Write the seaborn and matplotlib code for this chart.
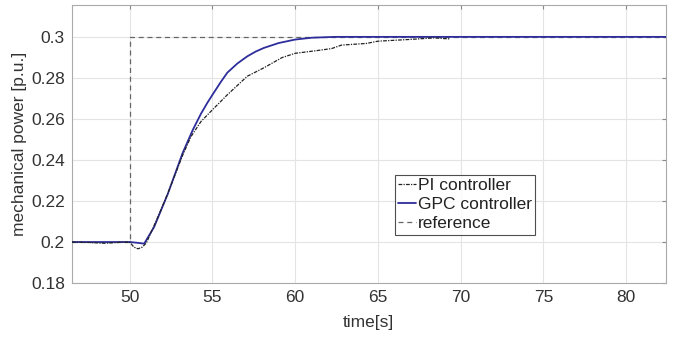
import numpy as np
import pandas as pd
import matplotlib
matplotlib.use("Agg")
import matplotlib.pyplot as plt
import seaborn as sns

# values
t_pi = [46.5, 47.5, 48.5, 49.5, 50.0, 50.25, 50.5, 50.75, 51.0, 51.7, 52.3, 53.2, 53.7,
        54.3, 55.0, 55.9, 57.1, 58.1, 59.2, 60.0, 61.2, 62.2, 62.8, 64.3, 65.0, 66.8,
        68.4, 69.35]
p_pi = [0.2, 0.1998, 0.1994, 0.1999, 0.2, 0.1975, 0.1967, 0.1975, 0.1995, 0.2122, 0.2237,
        0.2424, 0.2514, 0.2587, 0.2645, 0.2718, 0.2808, 0.2849, 0.2899, 0.292, 0.2932,
        0.2943, 0.2960, 0.2968, 0.2979, 0.2987, 0.2995, 0.2990]

t_gpc = [46.5, 50.0, 50.5, 50.87, 51.47, 52.3, 53.19, 53.8, 54.3, 54.7, 55.0, 55.5, 55.9,
         56.5, 57.1, 57.6, 58.1, 59.0, 60.0, 61.0, 62.4, 70.0, 82.5]
p_gpc = [0.2, 0.2, 0.1996, 0.1992, 0.2073, 0.2235, 0.2433, 0.2545, 0.2625, 0.2680, 0.2718,
         0.2780, 0.2826, 0.2870, 0.2905, 0.2928, 0.2946, 0.2970, 0.2987, 0.2996, 0.3,
         0.3, 0.3]

t_ref = [46.5, 50.0, 50.0, 82.5]
p_ref = [0.2, 0.2, 0.3, 0.3]

sns.set_style("whitegrid")
plt.rcParams['font.family'] = ['Liberation Sans', 'DejaVu Sans']

fig = plt.figure(figsize=(6.78, 3.39), dpi=100)
ax = fig.add_axes([0.106, 0.165, 0.876, 0.82])

df_ref = pd.DataFrame({"t": t_ref, "p": p_ref})
df_pi = pd.DataFrame({"t": t_pi, "p": p_pi})
df_gpc = pd.DataFrame({"t": t_gpc, "p": p_gpc})

sns.lineplot(data=df_gpc, x="t", y="p", ax=ax, color="#2d2d9c", lw=1.3,
             label="GPC controller", sort=False, estimator=None, zorder=3)
sns.lineplot(data=df_pi, x="t", y="p", ax=ax, color="#222222", lw=0.9,
             linestyle=(0, (3, 1, 1, 1)), label="PI controller", sort=False,
             estimator=None, zorder=4)
sns.lineplot(data=df_ref, x="t", y="p", ax=ax, color="#666666", lw=0.9,
             linestyle=(0, (4, 3)), label="reference", sort=False, estimator=None,
             zorder=2)

ax.set_xlim(46.5, 82.4)
ax.set_ylim(0.18, 0.3155)
ax.set_xticks([50, 55, 60, 65, 70, 75, 80])
ax.set_yticks([0.18, 0.2, 0.22, 0.24, 0.26, 0.28, 0.3])
ax.set_yticklabels(["0.18", "0.2", "0.22", "0.24", "0.26", "0.28", "0.3"])
ax.grid(True, color="#e4e4e4", lw=0.8)
for s in ax.spines.values():
    s.set_color("#aaaaaa")
    s.set_linewidth(0.8)
ax.tick_params(direction="in", length=3, color="#888888", labelsize=12.5,
               labelcolor="#333333", top=True, right=True, pad=5)
ax.set_xlabel("time[s]", fontsize=12.5, color="#333333", labelpad=7)
ax.set_ylabel("mechanical power [p.u.]", fontsize=12.5, color="#333333", labelpad=3)

h, l = ax.get_legend_handles_labels()
order = [l.index("PI controller"), l.index("GPC controller"), l.index("reference")]
leg = ax.legend([h[i] for i in order], [l[i] for i in order],
                loc="upper left", bbox_to_anchor=(0.544, 0.39), fontsize=12.5,
                frameon=True, fancybox=False, handlelength=1.0, handletextpad=0.1,
                borderpad=0.2, labelspacing=0.22, borderaxespad=0)
leg.get_frame().set_edgecolor("#222222")
leg.get_frame().set_linewidth(0.8)
for t in leg.get_texts():
    t.set_color("#222222")

fig.savefig("out.png", dpi=100)
